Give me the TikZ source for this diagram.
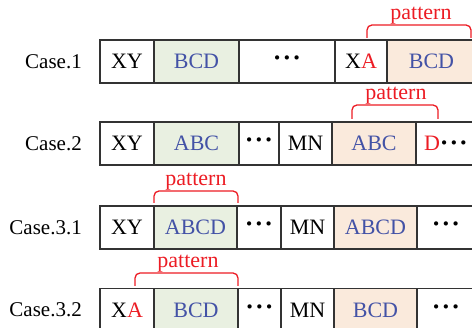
\documentclass[tikz,border=0pt]{standalone}
\usepackage{fontspec}
\setmainfont{Liberation Serif}
\definecolor{gfill}{HTML}{E9F0E1}
\definecolor{ofill}{HTML}{FAEADC}
\definecolor{bluetxt}{HTML}{4352A6}
\definecolor{redtxt}{HTML}{EC1C24}
\definecolor{edge}{HTML}{333333}
\newcommand{\dts}{{\fontsize{26}{26}\selectfont\bfseries\raisebox{-1pt}{·\kern1pt·\kern1pt·}}}
\tikzset{
  cell/.style={draw=edge, line width=1.5pt, minimum height=43pt, inner sep=0pt, anchor=center, font=\fontsize{22}{24}\selectfont},
  gcell/.style={cell, fill=gfill, text=bluetxt},
  ocell/.style={cell, fill=ofill, text=bluetxt},
  caselbl/.style={anchor=east, inner sep=0pt, font=\fontsize{21}{24}\selectfont},
  brk/.style={draw=redtxt, line width=1.3pt, rounded corners=5pt},
  plbl/.style={anchor=base, inner sep=0pt, text=redtxt, font=\fontsize{22}{24}\selectfont},
}
\begin{document}
\begin{tikzpicture}[x=1pt,y=-1pt]
\useasboundingbox (0,0) rectangle (472,328);
\clip (0,0) rectangle (472,328);
% Row 1
\node[caselbl] (c1) at (82,61.5) {Case.1};
\node[cell, minimum width=54pt] (r1a) at (127,61.5) {XY};
\node[gcell, minimum width=85pt] (r1b) at (196.5,61.5) {BCD};
\node[cell, minimum width=96pt] (r1c) at (287,61.5) {\dts};
\node[cell, minimum width=52pt] (r1d) at (361,61.5) {X\textcolor{redtxt}{A}};
\node[ocell, minimum width=89pt] (r1e) at (431.5,61.5) {BCD};
\coordinate (p1a) at (367,38);
\coordinate (p1b) at (471,38);
\draw[brk] (p1a) -- (367,25) -- (471,25) -- (p1b);
\node[plbl] (t1) at (421,20) {pattern};
% Row 2
\node[caselbl] (c2) at (82,143.5) {Case.2};
\node[cell, minimum width=54pt] (r2a) at (127,143.5) {XY};
\node[gcell, minimum width=85pt] (r2b) at (196.5,143.5) {ABC};
\node[cell, minimum width=40pt] (r2c) at (259,143.5) {\dts};
\node[cell, minimum width=53pt] (r2d) at (305.5,143.5) {MN};
\node[ocell, minimum width=84pt] (r2e) at (374,143.5) {ABC};
\node[cell, minimum width=60pt] (r2f) at (446,143.5) {\textcolor{redtxt}{D}\dts};
\coordinate (p2a) at (352,119);
\coordinate (p2b) at (438,119);
\draw[brk] (p2a) -- (352,105) -- (438,105) -- (p2b);
\node[plbl] (t2) at (396,100) {pattern};
% Row 3.1
\node[caselbl] (c3) at (82,227.5) {Case.3.1};
\node[cell, minimum width=54pt] (r3a) at (127,227.5) {XY};
\node[gcell, minimum width=83pt] (r3b) at (195.5,227.5) {ABCD};
\node[cell, minimum width=44pt] (r3c) at (259,227.5) {\dts};
\node[cell, minimum width=53pt] (r3d) at (307.5,227.5) {MN};
\node[ocell, minimum width=83pt] (r3e) at (375.5,227.5) {ABCD};
\node[cell, minimum width=58pt] (r3f) at (446,227.5) {\dts};
\coordinate (p3a) at (154,203);
\coordinate (p3b) at (238,203);
\draw[brk] (p3a) -- (154,191) -- (238,191) -- (p3b);
\node[plbl] (t3) at (196,186) {pattern};
% Row 3.2
\node[caselbl] (c4) at (82,310) {Case.3.2};
\node[cell, minimum width=54pt] (r4a) at (127,310) {X\textcolor{redtxt}{A}};
\node[gcell, minimum width=84pt] (r4b) at (196,310) {BCD};
\node[cell, minimum width=43pt] (r4c) at (259.5,310) {\dts};
\node[cell, minimum width=53pt] (r4d) at (307.5,310) {MN};
\node[ocell, minimum width=83pt] (r4e) at (375.5,310) {BCD};
\node[cell, minimum width=58pt] (r4f) at (446,310) {\dts};
\coordinate (p4a) at (135,286);
\coordinate (p4b) at (238,286);
\draw[brk] (p4a) -- (135,273) -- (238,273) -- (p4b);
\node[plbl] (t4) at (188,268) {pattern};
\end{tikzpicture}
\end{document}
